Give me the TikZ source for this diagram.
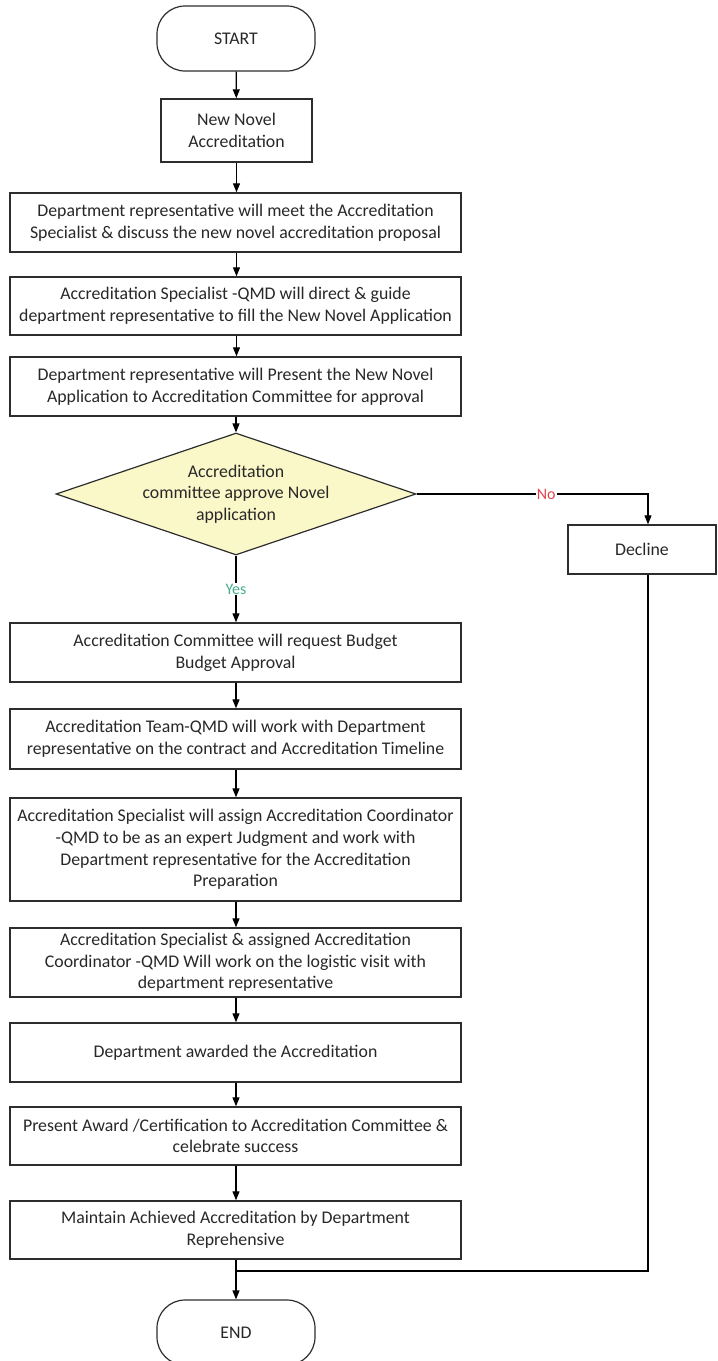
\documentclass[tikz,border=0pt]{standalone}
\usepackage{fontspec}
\setmainfont{Carlito}
\usetikzlibrary{arrows.meta,shapes.geometric,calc}
\definecolor{boxline}{RGB}{45,45,45}
\definecolor{txt}{RGB}{40,40,40}
\definecolor{diafill}{RGB}{250,248,200}
\definecolor{nored}{RGB}{225,70,80}
\definecolor{yesgreen}{RGB}{70,175,140}
\tikzset{
  stepbox/.style={draw=boxline, line width=1.4pt, fill=white, text=txt, align=center,
    minimum width=451pt, inner sep=0pt, font=\fontsize{17.8}{21.7}\selectfont},
  termbox/.style={draw=boxline, line width=1.2pt, rounded corners=28pt, text=txt,
    minimum width=158pt, minimum height=65pt, inner sep=0pt, font=\fontsize{17.8}{21.7}\selectfont},
  decide/.style={draw=boxline, line width=1.2pt, fill=diafill, text=txt, align=center,
    diamond, aspect=2.95, inner sep=0pt, minimum width=330pt, minimum height=112pt,
    font=\fontsize{17.8}{21.7}\selectfont},
  arr/.style={-{Triangle[length=9pt,width=7pt]}, line width=1.2pt, draw=black},
  conn/.style={line width=1.2pt, draw=black},
  lab/.style={fill=white, inner sep=1pt, font=\fontsize{16}{18}\selectfont}
}
\begin{document}
\begin{tikzpicture}[x=1pt,y=-1pt]
\useasboundingbox (0,0) rectangle (718,1361);
\fill[white] (0,0) rectangle (718,1361);

\node[termbox] (start) at (236,38.5) {START};
\node[stepbox, minimum width=151pt, minimum height=63pt] (new) at (236.5,130.5) {New Novel\\Accreditation};
\node[stepbox, minimum height=59pt] (b3) at (235.5,222.5) {Department representative will meet the Accreditation\\Specialist \& discuss the new novel accreditation proposal};
\node[stepbox, minimum height=58pt] (b4) at (235.5,306) {Accreditation Specialist -QMD will direct \& guide\\department representative to fill the New Novel Application};
\node[stepbox, minimum height=59pt] (b5) at (235.5,386.5) {Department representative will Present the New Novel\\Application to Accreditation Committee for approval};
\node[decide] (dia) at (236,494) {Accreditation\\committee approve Novel\\application};
\node[stepbox, minimum width=148pt, minimum height=49pt] (decline) at (642,549.5) {Decline};
\node[stepbox, minimum height=59pt] (b6) at (235.5,652.5) {Accreditation Committee will request Budget\\Budget Approval};
\node[stepbox, minimum height=60pt] (b7) at (235.5,739) {Accreditation Team-QMD will work with Department\\representative on the contract and Accreditation Timeline};
\node[stepbox, minimum height=103pt] (b8) at (235.5,849.5) {Accreditation Specialist will assign Accreditation Coordinator\\-QMD to be as an expert Judgment and work with\\Department representative for the Accreditation\\Preparation};
\node[stepbox, minimum height=69pt] (b9) at (235.5,962.5) {Accreditation Specialist \& assigned Accreditation\\Coordinator -QMD Will work on the logistic visit with\\department representative};
\node[stepbox, minimum height=59pt] (b10) at (235.5,1052.5) {Department awarded the Accreditation};
\node[stepbox, minimum height=58pt] (b11) at (235.5,1136) {Present Award /Certification to Accreditation Committee \&\\celebrate success};
\node[stepbox, minimum height=58pt] (b12) at (235.5,1230) {Maintain Achieved Accreditation by Department\\Reprehensive};
\node[termbox] (end) at (236,1332.5) {END};

\coordinate (ncorner) at (648,494);
\coordinate (merge) at (236,1271);

\draw[arr] (start) -- (new);
\draw[arr] (new) -- (b3.north -| new);
\draw[arr] (b3.south -| new) -- (b4.north -| new);
\draw[arr] (b4.south -| new) -- (b5.north -| new);
\draw[arr] (b5.south -| dia) -- (dia.north);
\draw[arr] (dia.south) -- node[lab, text=yesgreen, pos=0.5] {Yes} (b6.north -| dia);
\draw[arr] (dia.east) -- node[lab, text=nored, pos=0.56] {No} (ncorner) -- (ncorner |- decline.north);
\draw[arr] (b6.south -| dia) -- (b7.north -| dia);
\draw[arr] (b7.south -| dia) -- (b8.north -| dia);
\draw[arr] (b8.south -| dia) -- (b9.north -| dia);
\draw[arr] (b9.south -| dia) -- (b10.north -| dia);
\draw[arr] (b10.south -| dia) -- (b11.north -| dia);
\draw[arr] (b11.south -| dia) -- (b12.north -| dia);
\draw[arr] (b12.south -| dia) -- (end.north);
\draw[conn] (ncorner |- decline.south) |- (merge);
\end{tikzpicture}
\end{document}
